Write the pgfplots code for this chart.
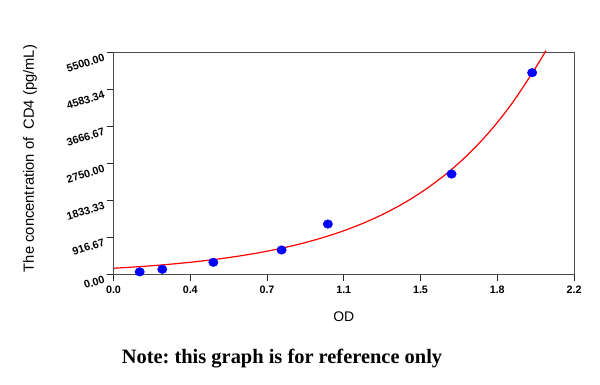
\documentclass[border=0pt]{standalone}
\usepackage{fontspec}
\setmainfont{Liberation Sans}
\newfontfamily\notefont{Liberation Serif}
\usepackage{pgfplots}
\pgfplotsset{compat=1.18}
\frenchspacing
\begin{document}
\begin{tikzpicture}
\useasboundingbox (0bp,0bp) rectangle (600bp,-385bp);
\begin{axis}[
  at={(113.5bp,-274.3bp)}, anchor=south west,
  scale only axis, width=460.5bp, height=221.8bp,
  xmin=0, xmax=2.2, ymin=0, ymax=5500,
  clip=false,
  xtick={0,0.366667,0.733333,1.1,1.466667,1.833333,2.2},
  xticklabels={0.0,0.4,0.7,1.1,1.5,1.8,2.2},
  ytick={0,916.667,1833.333,2750,3666.667,4583.333,5500},
  yticklabels={0.00,916.67,1833.33,2750.00,3666.67,4583.34,5500.00},
  minor x tick num=3, minor y tick num=3,
  tick align=outside, xtick pos=bottom, ytick pos=left,
  major tick length=6.5bp, minor tick length=4bp,
  axis line style={black!70, line width=0.8bp},
  tick style={black!85, line width=0.8bp},
  /pgf/number format/assume math mode=true,
  ticklabel style={font=\bfseries\fontsize{10.8}{12}\selectfont},
  xticklabel style={yshift=-1.5bp},
  yticklabel style={rotate=18, anchor=north east, inner sep=0.5bp, xshift=-3.5bp, yshift=1bp},
  xlabel={OD},
  ylabel={The concentration of\ \ CD4 (pg/mL)},
  xlabel style={font=\fontsize{14}{16}\selectfont, at={(axis description cs:0.5,-0.191)}, anchor=center},
  ylabel style={font=\fontsize{14.8}{16}\selectfont, at={(axis description cs:-0.181,0.522)}, anchor=center},
]
\addplot[red, line width=1.2bp, smooth] coordinates {
(0,150) (0.1,182) (0.2,219) (0.3,264) (0.4,317) (0.5,379) (0.6,453) (0.7,540)
(0.8,643) (0.9,765) (1.0,910) (1.1,1080) (1.2,1282) (1.3,1521) (1.4,1804)
(1.5,2139) (1.6,2534) (1.7,3002) (1.8,3556) (1.9,4211) (2.0,4985) (2.066,5545)
};
\addplot[only marks, mark=*, mark size=4.3bp, mark options={draw=blue, fill=blue, xscale=1.1}] coordinates {
(0.125,60) (0.233,124) (0.477,297) (0.803,603) (1.024,1247) (1.615,2487) (2.0,4999)
};
\end{axis}
\node[anchor=base, font=\notefont\bfseries\fontsize{20.5}{23}\selectfont] at (282bp,-363bp) {Note: this graph is for reference only};
\end{tikzpicture}
\end{document}
